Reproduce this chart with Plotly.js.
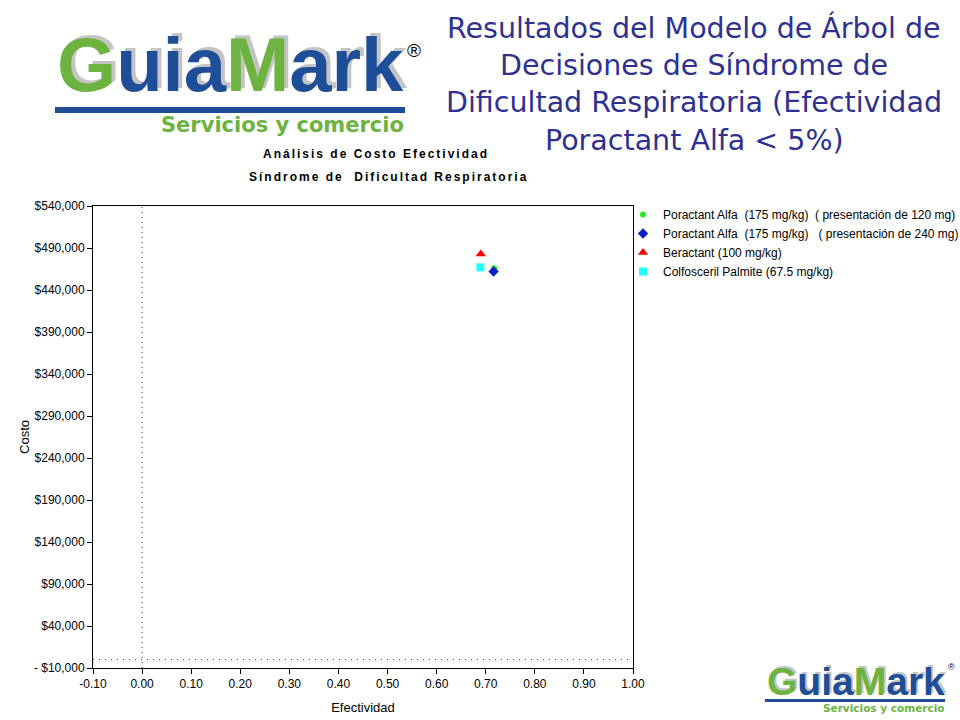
<!DOCTYPE html>
<html>
<head>
<meta charset="utf-8">
<script src="https://cdn.plot.ly/plotly-3.0.1.min.js"></script>
<style>
html,body{margin:0;padding:0;background:#fff;}
#chart{width:960px;height:720px;}
</style>
</head>
<body>
<div id="chart"></div>
<script>
// ---- data ----
const seriesNames = [
  "Poractant Alfa  (175 mg/kg)  ( presentación de 120 mg)",
  "Poractant Alfa  (175 mg/kg)   ( presentación de 240 mg)",
  "Beractant (100 mg/kg)",
  "Colfosceril Palmite (67.5 mg/kg)"
];
const efectividad = [0.717, 0.716, 0.690, 0.689];
const costo = [466000, 462000, 483000, 467000];
const markerSymbols = ["circle", "diamond", "triangle-up", "square"];
const markerColors = ["#22ee22", "#0a1fc8", "#ff0000", "#22ffff"];
const markerSizes = [6, 8, 9, 8];

const yTickVals = [-10000, 40000, 90000, 140000, 190000, 240000, 290000, 340000, 390000, 440000, 490000, 540000];
const yTickText = ["- $10,000", "$40,000", "$90,000", "$140,000", "$190,000", "$240,000", "$290,000", "$340,000", "$390,000", "$440,000", "$490,000", "$540,000"];
const xTickVals = [-0.1, 0, 0.1, 0.2, 0.3, 0.4, 0.5, 0.6, 0.7, 0.8, 0.9, 1.0];
const xTickText = ["-0.10", "0.00", "0.10", "0.20", "0.30", "0.40", "0.50", "0.60", "0.70", "0.80", "0.90", "1.00"];
const bigTitleLines = ["Resultados del Modelo de Árbol de", "Decisiones de Síndrome de", "Dificultad Respiratoria (Efectividad", "Poractant Alfa < 5%)"];
const chartTitleLines = ["Análisis de Costo Efectividad", "Síndrome de  Dificultad Respiratoria"];

const traces = seriesNames.map((n, i) => ({
  type: "scatter", mode: "markers", name: n,
  x: [efectividad[i]], y: [costo[i]],
  marker: {symbol: markerSymbols[i], color: markerColors[i], size: markerSizes[i], line: {width: 0}}
}));

const F = "Liberation Sans, Arial, sans-serif";
const W = "DejaVu Sans, sans-serif";
const green = "#6cb33f", blue = "#1f4e99", shadowCol = "#c4c4c4";
const logoText = `<span style="color:${green}">G</span><span style="color:${blue}">uia</span><span style="color:${green}">M</span><span style="color:${blue}">ark</span>`;

// paper-coordinate helpers (plot area: x 93..633, y 206..668)
const px = v => (v - 93) / 540;
const py = v => (668 - v) / 462;

const annotations = [];
bigTitleLines.forEach((t, i) => annotations.push({
  xref: "paper", yref: "paper", x: px(694), y: py(28 + i * 37.5), xanchor: "center", yanchor: "middle", showarrow: false,
  text: t, font: {family: W, size: 28.5, color: "#2e3192"}
}));
chartTitleLines.forEach((t, i) => annotations.push({
  xref: "paper", yref: "paper", x: px(i === 0 ? 376 : 388), y: py(154 + i * 23), xanchor: "center", yanchor: "middle", showarrow: false,
  text: `<b><span style="letter-spacing:2px">${t}</span></b>`, font: {family: F, size: 12, color: "#000"}
}));
annotations.push(
  // top-left logo
  {xref: "paper", yref: "paper", x: px(55), y: py(65), xanchor: "left", yanchor: "middle", showarrow: false,
   text: "<b>" + logoText + "</b>", font: {family: F, size: 76, shadow: `4px -3px 0px ${shadowCol}`}},
  {xref: "paper", yref: "paper", x: px(405), y: py(50), xanchor: "left", yanchor: "middle", showarrow: false,
   text: "®", font: {family: F, size: 19, color: "#000"}},
  {xref: "paper", yref: "paper", x: px(406), y: py(125), xanchor: "right", yanchor: "middle", showarrow: false,
   text: "<b>Servicios y comercio</b>", font: {family: W, size: 21, color: green}},
  // bottom-right logo
  {xref: "paper", yref: "paper", x: px(765), y: py(681), xanchor: "left", yanchor: "middle", showarrow: false,
   text: "<b>" + logoText + "</b>", font: {family: F, size: 39, shadow: `2px -2px 0px ${shadowCol}`}},
  {xref: "paper", yref: "paper", x: px(946), y: py(667), xanchor: "left", yanchor: "middle", showarrow: false,
   text: "®", font: {family: F, size: 9, color: "#000"}},
  {xref: "paper", yref: "paper", x: px(946), y: py(708), xanchor: "right", yanchor: "middle", showarrow: false,
   text: "<b>Servicios y comercio</b>", font: {family: W, size: 10.5, color: green}}
);

const layout = {
  width: 960, height: 720,
  paper_bgcolor: "#fff", plot_bgcolor: "#fff",
  margin: {l: 93, r: 327, t: 206, b: 52, autoexpand: false},
  showlegend: true,
  legend: {x: 0.9815, xanchor: "left", y: 1.013, yanchor: "top", font: {family: F, size: 12, color: "#000"},
           bgcolor: "rgba(0,0,0,0)", tracegroupgap: 0, itemwidth: 30},
  xaxis: {range: [-0.1, 1.0], tickvals: xTickVals, ticktext: xTickText, ticks: "outside", ticklen: 5,
          tickcolor: "#000", showgrid: false, zeroline: false, showline: true, linecolor: "#000", linewidth: 1,
          mirror: true, tickfont: {family: F, size: 12, color: "#000"}, automargin: false,
          title: {text: "Efectividad", font: {family: F, size: 13, color: "#000"}, standoff: 12}},
  yaxis: {range: [-10000, 540000], tickvals: yTickVals, ticktext: yTickText, ticks: "outside", ticklen: 5,
          tickcolor: "#000", showgrid: false, zeroline: false, showline: true, linecolor: "#000", linewidth: 1,
          mirror: true, tickfont: {family: F, size: 12, color: "#000"}, automargin: false,
          title: {text: "Costo", font: {family: F, size: 13, color: "#000"}, standoff: 1}},
  shapes: [
    {type: "line", xref: "x", yref: "paper", x0: 0, x1: 0, y0: 0, y1: 1, line: {color: "#333", width: 1, dash: "1px,4px"}},
    {type: "line", xref: "paper", yref: "y", x0: 0, x1: 1, y0: 0, y1: 0, line: {color: "#333", width: 1, dash: "1px,5px"}},
    // logo bars
    {type: "rect", xref: "paper", yref: "paper", x0: px(55), x1: px(405), y0: py(113), y1: py(107), fillcolor: blue, line: {width: 0}},
    {type: "rect", xref: "paper", yref: "paper", x0: px(765), x1: px(945), y0: py(702), y1: py(699), fillcolor: blue, line: {width: 0}}
  ],
  annotations: annotations
};

Plotly.newPlot("chart", traces, layout, {displayModeBar: false, responsive: false});
</script>
</body>
</html>
